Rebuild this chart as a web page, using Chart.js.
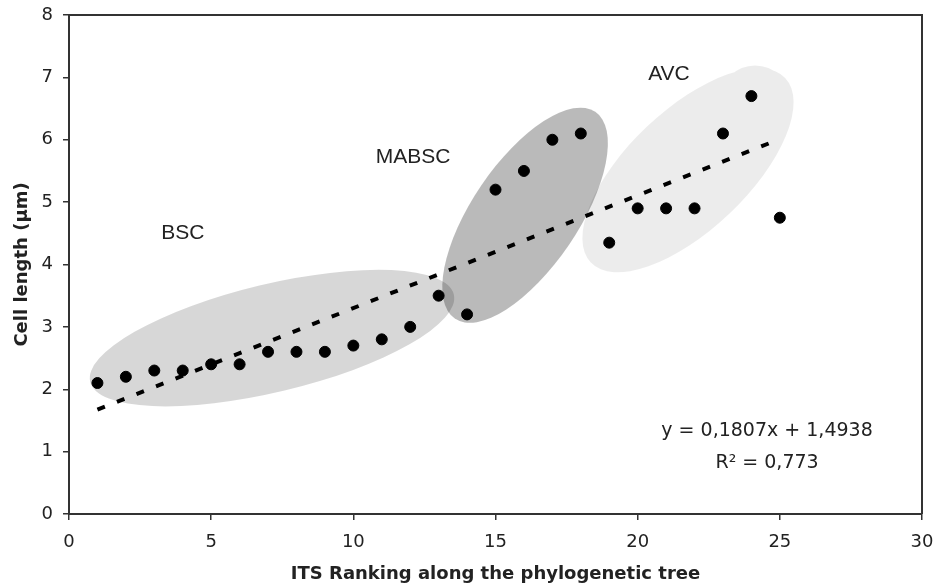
<!DOCTYPE html>
<html>
<head>
<meta charset="utf-8">
<script src="https://cdn.jsdelivr.net/npm/chart.js@4.4.1/dist/chart.umd.min.js"></script>
<style>
  html, body { margin: 0; padding: 0; background: #fff; }
  #wrap { width: 933px; height: 587px; }
</style>
</head>
<body>
<div id="wrap"><canvas id="chart"></canvas></div>
<script>
// ITS ranking (x) and cell length in µm (y)
const ranking = [1, 2, 3, 4, 5, 6, 7, 8, 9, 10, 11, 12, 13, 14, 15, 16, 17, 18, 19, 20, 21, 22, 23, 24, 25];
const cellLength = [2.1, 2.2, 2.3, 2.3, 2.4, 2.4, 2.6, 2.6, 2.6, 2.7, 2.8, 3.0, 3.5, 3.2, 5.2, 5.5, 6.0, 6.1, 4.35, 4.9, 4.9, 4.9, 6.1, 6.7, 4.75];

// linear trend reported on the figure
const slope = 0.1807;
const intercept = 1.4938;
const trendX = [1, 25];
const eqText = 'y = 0,1807x + 1,4938';
const r2Text = 'R² = 0,773';

// shaded groups, centre in data units, radii in pixels
const groups = [
    { name: 'BSC', cx: 7.14, cy: 2.82, rx: 187, ry: 54, angle: -13.5, fill: 'rgba(0,0,0,0.155)', lx: 4.0, ly: 4.5 },
    { name: 'MABSC', cx: 16.04, cy: 4.79, rx: 125, ry: 53, angle: -55.8, fill: 'rgba(0,0,0,0.27)', lx: 12.1, ly: 5.72 },
    { name: 'AVC', cx: 21.77, cy: 5.51, rx: 134, ry: 60, angle: -43.5, fill: 'rgba(0,0,0,0.075)', lx: 21.1, ly: 7.05,
      bump: { cx: 24.13, cy: 6.63, r: 35 } }
];

const points = ranking.map((x, i) => ({ x: x, y: cellLength[i] }));
const trend = trendX.map(x => ({ x: x, y: slope * x + intercept }));

const groupPlugin = {
    id: 'groups',
    beforeDatasetsDraw(chart) {
        const ctx = chart.ctx;
        const xs = chart.scales.x, ys = chart.scales.y;
        ctx.save();
        groups.forEach(g => {
            ctx.beginPath();
            ctx.ellipse(xs.getPixelForValue(g.cx), ys.getPixelForValue(g.cy), g.rx, g.ry, g.angle * Math.PI / 180, 0, Math.PI * 2);
            if (g.bump) {
                const bx = xs.getPixelForValue(g.bump.cx), by = ys.getPixelForValue(g.bump.cy);
                ctx.moveTo(bx + g.bump.r, by);
                ctx.arc(bx, by, g.bump.r, 0, Math.PI * 2);
            }
            ctx.fillStyle = g.fill;
            ctx.fill('nonzero');
        });
        ctx.restore();
    },
    afterDatasetsDraw(chart) {
        const ctx = chart.ctx;
        const xs = chart.scales.x, ys = chart.scales.y;
        const a = chart.chartArea;
        ctx.save();
        // frame on top and right
        ctx.strokeStyle = '#333';
        ctx.lineWidth = 2;
        ctx.beginPath();
        ctx.moveTo(a.left, a.top);
        ctx.lineTo(a.right, a.top);
        ctx.lineTo(a.right, a.bottom);
        ctx.stroke();

        ctx.fillStyle = '#222';
        ctx.textAlign = 'center';
        ctx.textBaseline = 'middle';
        ctx.font = '21px "Liberation Sans", Arial, sans-serif';
        groups.forEach(g => {
            ctx.fillText(g.name, xs.getPixelForValue(g.lx), ys.getPixelForValue(g.ly));
        });
        ctx.font = '19px "DejaVu Sans", Verdana, sans-serif';
        ctx.fillText(eqText, xs.getPixelForValue(24.55), ys.getPixelForValue(1.33));
        ctx.fillText(r2Text, xs.getPixelForValue(24.55), ys.getPixelForValue(0.82));
        ctx.restore();
    }
};

const tickFont = { family: '"DejaVu Sans", Verdana, sans-serif', size: 18 };
const titleFont = { family: '"DejaVu Sans", Verdana, sans-serif', size: 18, weight: 'bold' };

new Chart(document.getElementById('chart'), {
    type: 'scatter',
    data: {
        datasets: [{
            label: 'Cell length',
            data: points,
            backgroundColor: '#000',
            borderColor: '#000',
            pointRadius: 5.5,
            pointHoverRadius: 5.5
        }, {
            type: 'line',
            label: 'Trend',
            data: trend,
            borderColor: '#000',
            borderWidth: 4,
            borderDash: [8, 13],
            pointRadius: 0,
            fill: false
        }]
    },
    options: {
        responsive: true,
        maintainAspectRatio: false,
        animation: false,
        events: [],
        layout: { padding: { left: 0, right: 11, top: 15, bottom: 0 } },
        plugins: {
            legend: { display: false },
            tooltip: { enabled: false }
        },
        scales: {
            x: {
                type: 'linear',
                min: 0,
                max: 30,
                ticks: { stepSize: 5, color: '#222', font: tickFont, padding: 12, maxRotation: 0 },
                grid: { drawOnChartArea: false, tickLength: 6, color: '#333', lineWidth: 1.5 },
                border: { color: '#333', width: 2 },
                title: { display: true, text: 'ITS Ranking along the phylogenetic tree', color: '#222', font: titleFont, padding: { top: 0, bottom: 2 } },
                afterFit(scale) { scale.height = 73; scale.paddingLeft = 0; scale.paddingRight = 0; }
            },
            y: {
                min: 0,
                max: 8,
                ticks: { stepSize: 1, color: '#222', font: tickFont, padding: 10 },
                grid: { drawOnChartArea: false, tickLength: 6, color: '#333', lineWidth: 1.5 },
                border: { color: '#333', width: 2 },
                title: { display: true, text: 'Cell length (µm)', color: '#222', font: titleFont, padding: { top: 12, bottom: 0 } },
                afterFit(scale) { scale.width = 69; scale.paddingTop = 0; scale.paddingBottom = 0; }
            }
        }
    },
    plugins: [groupPlugin]
});
</script>
</body>
</html>
